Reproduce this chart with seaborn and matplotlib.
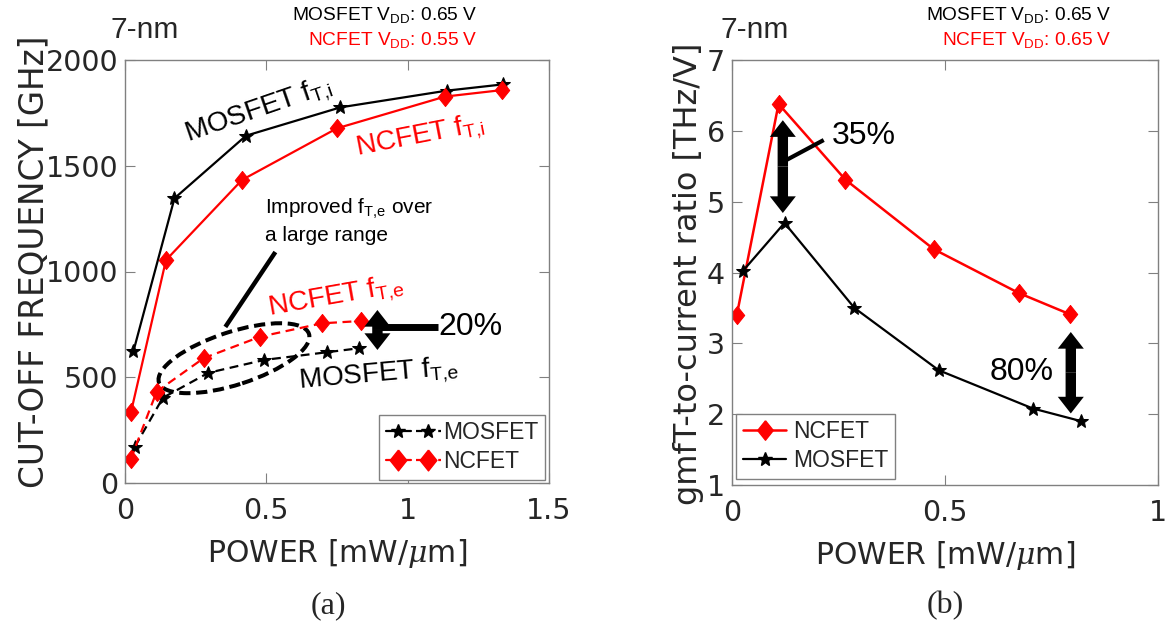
import numpy as np
import pandas as pd
import matplotlib
matplotlib.use('Agg')
import matplotlib.pyplot as plt
import seaborn as sns
from matplotlib.patches import Ellipse
from matplotlib.lines import Line2D
from matplotlib.legend_handler import HandlerTuple

# ---------------- Data: panel (a) ----------------
power_mos_i = [0.030, 0.175, 0.428, 0.762, 1.138, 1.339]
ft_mos_i = [624, 1346, 1642, 1776, 1855, 1885]
power_nc_i = [0.021, 0.145, 0.414, 0.750, 1.132, 1.335]
ft_nc_i = [334, 1054, 1433, 1677, 1827, 1858]
power_nc_e = [0.020, 0.112, 0.278, 0.479, 0.697, 0.835]
ft_nc_e = [112, 432, 590, 692, 755, 766]
power_mos_e = [0.035, 0.134, 0.295, 0.493, 0.713, 0.827]
ft_mos_e = [172, 403, 521, 582, 618, 637]

# ---------------- Data: panel (b) ----------------
power_nc_b = [0.012, 0.110, 0.267, 0.474, 0.674, 0.794]
ratio_nc_b = [3.40, 6.38, 5.31, 4.33, 3.71, 3.41]
power_mos_b = [0.026, 0.124, 0.288, 0.486, 0.707, 0.821]
ratio_mos_b = [4.02, 4.70, 3.50, 2.62, 2.08, 1.90]

xticks_a = [0, 0.5, 1, 1.5]
xticklabels_a = ['0', '0.5', '1', '1.5']
yticks_a = [0, 500, 1000, 1500, 2000]
xticks_b = [0, 0.5, 1]
xticklabels_b = ['0', '0.5', '1']
yticks_b = [1, 2, 3, 4, 5, 6, 7]

sns.set_theme(style='white')
plt.rcParams['font.family'] = ['DejaVu Sans']
plt.rcParams['mathtext.fontset'] = 'custom'
plt.rcParams['mathtext.rm'] = 'Liberation Sans'
plt.rcParams['mathtext.it'] = 'DejaVu Serif:italic'

ANN = 'Liberation Sans'
TXT = '#262626'
SPINE = '#808080'
RED = '#ff0000'
DIAMOND = [(0, 1), (0.8, 0), (0, -1), (-0.8, 0), (0, 1)]

fig = plt.figure(figsize=(11.69, 6.24), dpi=100)
W, H = 1169, 624
ax1 = fig.add_axes([125 / W, 1 - 483 / H, 424 / W, 423 / H])
ax2 = fig.add_axes([731.7 / W, 1 - 485 / H, 426 / W, 425 / H])


def draw(ax, x, y, color, marker, ms, ls, lw=1.6):
    df = pd.DataFrame({'x': x, 'y': y})
    sns.lineplot(data=df, x='x', y='y', ax=ax, color=color, marker=marker,
                 markersize=ms, linewidth=lw, linestyle=ls,
                 markeredgecolor=color, markerfacecolor=color,
                 legend=False, sort=False, estimator=None)


# panel (a)
draw(ax1, power_mos_i, ft_mos_i, 'black', '*', 10, '-')
draw(ax1, power_nc_i, ft_nc_i, RED, DIAMOND, 13, '-')
draw(ax1, power_mos_e, ft_mos_e, 'black', '*', 10, (0, (4, 2.5)))
draw(ax1, power_nc_e, ft_nc_e, RED, DIAMOND, 13, (0, (4, 2.5)))

# panel (b)
draw(ax2, power_nc_b, ratio_nc_b, RED, DIAMOND, 13, '-', 1.8)
draw(ax2, power_mos_b, ratio_mos_b, 'black', '*', 10, '-', 1.6)

for ax in (ax1, ax2):
    ax.set_xlabel('POWER [mW/$\\mu$m]', fontsize=21.5, color=TXT, labelpad=9)
    for s in ax.spines.values():
        s.set_color(SPINE)
        s.set_linewidth(1.0)
        s.set_visible(True)
    ax.tick_params(direction='in', length=7, width=0.8, color=SPINE,
                   top=True, right=True, bottom=True, left=True,
                   labelsize=20.5, labelcolor=TXT)
    ax.tick_params(axis='x', pad=10)
    ax.tick_params(axis='y', pad=5)
    ax.grid(False)

ax1.set_xlim(0, 1.5)
ax1.set_ylim(0, 2000)
ax1.set_xticks(xticks_a)
ax1.set_xticklabels(xticklabels_a)
ax1.set_yticks(yticks_a)
ax1.set_ylabel('CUT-OFF FREQUENCY [GHz]', fontsize=23.5, color=TXT)
ax1.yaxis.set_label_coords(-0.175, 0.522)

ax2.set_xlim(0, 1)
ax2.set_ylim(1, 7)
ax2.set_xticks(xticks_b)
ax2.set_xticklabels(xticklabels_b)
ax2.set_yticks(yticks_b)
ax2.set_ylabel('gmfT-to-current ratio [THz/V]', fontsize=23, color=TXT)
ax2.yaxis.set_label_coords(-0.065, 0.498)

# ---------------- annotations panel (a) ----------------
ax1.text(0.472, 1763, 'MOSFET f$_{\\mathrm{T{,}i}}$', family=ANN, fontsize=20,
         rotation=19, ha='center', va='center', rotation_mode='anchor', color='black')
ax1.text(1.043, 1636, 'NCFET f$_{\\mathrm{T{,}i}}$', family=ANN, fontsize=20,
         rotation=11, ha='center', va='center', rotation_mode='anchor', color=RED)
ax1.text(0.747, 881, 'NCFET f$_{\\mathrm{T{,}e}}$', family=ANN, fontsize=20,
         rotation=10, ha='center', va='center', rotation_mode='anchor', color=RED)
ax1.text(0.897, 511, 'MOSFET f$_{\\mathrm{T{,}e}}$', family=ANN, fontsize=20,
         rotation=5, ha='center', va='center', rotation_mode='anchor', color='black')
ax1.text(0.496, 1352, 'Improved f$_{\\mathrm{T{,}e}}$ over\na large range', family=ANN,
         fontsize=15, ha='left', va='top', linespacing=1.3, color='black')
ax1.plot([0.532, 0.355], [1092, 738], color='black', lw=3.2, solid_capstyle='butt')
ax1.add_patch(Ellipse((0.257, 0.295), 0.372, 0.125, angle=18,
                      transform=ax1.transAxes, fill=False, ec='black',
                      lw=2.9, ls=(0, (2.8, 1.4))))


def double_arrow(ax, x, y0, y1):
    ym = (y0 + y1) / 2
    for yt in (y0, y1):
        ax.annotate('', xy=(x, yt), xytext=(x, ym),
                    arrowprops=dict(arrowstyle='simple,head_length=0.8,head_width=1.25,tail_width=0.5',
                                    mutation_scale=15, fc='black', ec='none', lw=0,
                                    shrinkA=0, shrinkB=0))


double_arrow(ax1, 0.893, 818, 629)
ax1.plot([0.904, 1.106], [737, 737], color='black', lw=5, solid_capstyle='butt')
ax1.text(1.11, 737, '20%', family=ANN, fontsize=23, ha='left', va='center', color='black')

# ---------------- annotations panel (b) ----------------
double_arrow(ax2, 0.12, 6.15, 4.84)
ax2.plot([0.129, 0.216], [5.59, 5.87], color='black', lw=3, solid_capstyle='butt')
ax2.text(0.235, 5.93, '35%', family=ANN, fontsize=23, ha='left', va='center', color='black')
double_arrow(ax2, 0.796, 3.16, 2.01)
ax2.text(0.756, 2.595, '80%', family=ANN, fontsize=23, ha='right', va='center', color='black')

# ---------------- legends ----------------
leg_prop = {'family': ANN, 'size': 16.5}
h_mos_s = Line2D([], [], color='black', marker='*', ms=10, lw=1.6)
h_mos_d = Line2D([], [], color='black', marker='*', ms=10, lw=1.6, ls=(0, (3, 2)))
h_nc_s = Line2D([], [], color=RED, marker=DIAMOND, ms=15, lw=1.6)
h_nc_d = Line2D([], [], color=RED, marker=DIAMOND, ms=15, lw=1.6, ls=(0, (3, 2)))
leg1 = ax1.legend([(h_mos_s, h_mos_d), (h_nc_s, h_nc_d)], ['MOSFET', 'NCFET'],
                  handler_map={tuple: HandlerTuple(ndivide=None, pad=0.2)},
                  loc='lower right', bbox_to_anchor=(0.991, 0.007), borderaxespad=0,
                  prop=leg_prop, frameon=True, fancybox=False, framealpha=1,
                  edgecolor=SPINE, handlelength=2.4, handletextpad=0.1,
                  borderpad=0.3, labelspacing=0.25)
leg1.get_frame().set_linewidth(1.0)

h2_nc = Line2D([], [], color=RED, marker=DIAMOND, ms=14, lw=1.8)
h2_mos = Line2D([], [], color='black', marker='*', ms=10, lw=1.6)
leg2 = ax2.legend([h2_nc, h2_mos], ['NCFET', 'MOSFET'],
                  loc='lower left', bbox_to_anchor=(0.01, 0.014), borderaxespad=0,
                  prop=leg_prop, frameon=True, fancybox=False, framealpha=1,
                  edgecolor=SPINE, handlelength=1.9, handletextpad=0.3,
                  borderpad=0.3, labelspacing=0.25)
leg2.get_frame().set_linewidth(1.0)

# ---------------- figure texts ----------------
fig.text(110 / W, 1 - 30 / H, '7-nm', family=ANN, fontsize=21.5, ha='left', va='center')
fig.text(720 / W, 1 - 30 / H, '7-nm', family=ANN, fontsize=21.5, ha='left', va='center')
fig.text(478 / W, 1 - 15 / H, 'MOSFET V$_{\\mathrm{DD}}$: 0.65 V', family=ANN, fontsize=13.8,
         ha='right', va='center', color='black')
fig.text(478 / W, 1 - 40 / H, 'NCFET V$_{\\mathrm{DD}}$: 0.55 V', family=ANN, fontsize=13.8,
         ha='right', va='center', color=RED)
fig.text(1112 / W, 1 - 15 / H, 'MOSFET V$_{\\mathrm{DD}}$: 0.65 V', family=ANN, fontsize=13.8,
         ha='right', va='center', color='black')
fig.text(1112 / W, 1 - 40 / H, 'NCFET V$_{\\mathrm{DD}}$: 0.65 V', family=ANN, fontsize=13.8,
         ha='right', va='center', color=RED)
fig.text(328 / W, 1 - 606 / H, '(a)', family='Liberation Serif', fontsize=23, ha='center', va='center')
fig.text(945 / W, 1 - 606 / H, '(b)', family='Liberation Serif', fontsize=23, ha='center', va='center')

fig.savefig('out.png', dpi=100, facecolor='white')
